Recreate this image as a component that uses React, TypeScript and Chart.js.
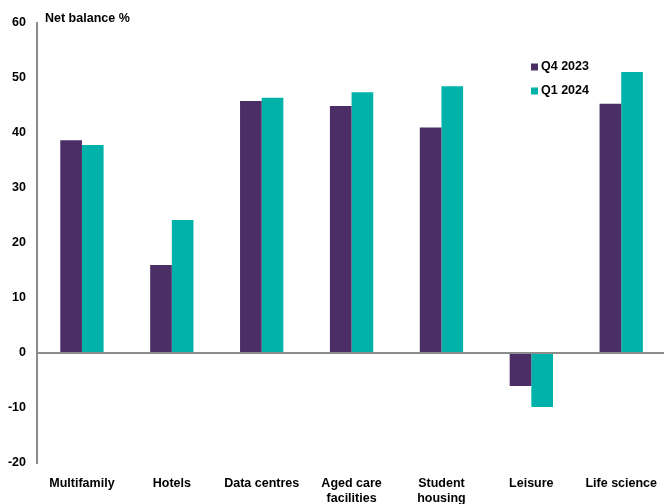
import React, { useEffect, useRef } from "react";
import { Chart, registerables } from "chart.js";

Chart.register(...registerables);

const categories: (string | string[])[] = [
  "Multifamily",
  "Hotels",
  "Data centres",
  ["Aged care", "facilities"],
  ["Student", "housing"],
  "Leisure",
  "Life science",
];
const q4_2023 = [38.7, 16.0, 45.8, 44.9, 41.0, -6.0, 45.3];
const q1_2024 = [37.8, 24.2, 46.4, 47.4, 48.5, -9.8, 51.1];
const seriesLabels = ["Q4 2023", "Q1 2024"];
const seriesColors = ["#4B2E66", "#00B2A9"];
const yTitle = "Net balance %";

const FONT = "'Liberation Sans', Arial, sans-serif";

const overlayPlugin = {
  id: "overlay",
  afterDraw(chart: any) {
    const ctx = chart.ctx;
    ctx.save();
    ctx.fillStyle = "#000";
    ctx.font = `bold 12.5px ${FONT}`;
    ctx.textBaseline = "middle";
    ctx.textAlign = "left";
    ctx.fillText(yTitle, 45, 18.5);
    const ys = [67, 91];
    chart.data.datasets.forEach((ds: any, i: number) => {
      ctx.fillStyle = ds.backgroundColor;
      ctx.fillRect(531, ys[i] - 3.5, 7, 7);
      ctx.fillStyle = "#000";
      ctx.fillText(ds.label, 541, ys[i]);
    });
    ctx.restore();
  },
};

export default function App() {
  const ref = useRef<HTMLCanvasElement | null>(null);
  useEffect(() => {
    if (!ref.current) return;
    const chart = new Chart(ref.current, {
      type: "bar",
      data: {
        labels: categories,
        datasets: [
          { label: seriesLabels[0], data: q4_2023, backgroundColor: seriesColors[0] },
          { label: seriesLabels[1], data: q1_2024, backgroundColor: seriesColors[1] },
        ],
      },
      options: {
        animation: false,
        responsive: false,
        maintainAspectRatio: false,
        layout: { padding: { top: 23, left: 0, right: 0, bottom: 0 } },
        datasets: { bar: { categoryPercentage: 0.482, barPercentage: 1, borderWidth: 0 } },
        plugins: { legend: { display: false }, tooltip: { enabled: false }, title: { display: false } },
        scales: {
          x: {
            grid: { display: false, drawTicks: false },
            border: { display: false },
            ticks: {
              color: "#000",
              font: { family: FONT, weight: "bold", size: 12.5 },
              padding: 13,
              maxRotation: 0,
              autoSkip: false,
            },
            afterFit: (s: any) => {
              s.height = 41;
            },
          },
          y: {
            min: -20,
            max: 60,
            grid: {
              drawTicks: false,
              color: (c: any) => (c.tick && c.tick.value === 0 ? "#8c8c8c" : "rgba(0,0,0,0)"),
              lineWidth: 2,
            },
            border: { display: true, color: "#8c8c8c", width: 2 },
            ticks: {
              stepSize: 10,
              color: "#000",
              font: { family: FONT, weight: "bold", size: 12.5 },
              padding: 11,
            },
            afterFit: (s: any) => {
              s.width = 37;
            },
          },
        },
      },
      plugins: [overlayPlugin],
    });
    return () => chart.destroy();
  }, []);
  return (
    <div style={{ position: "fixed", left: 0, top: 0, width: 664, height: 504, background: "#fff", overflow: "hidden" }}>
      <canvas ref={ref} width={670} height={504} style={{ display: "block" }} />
    </div>
  );
}
